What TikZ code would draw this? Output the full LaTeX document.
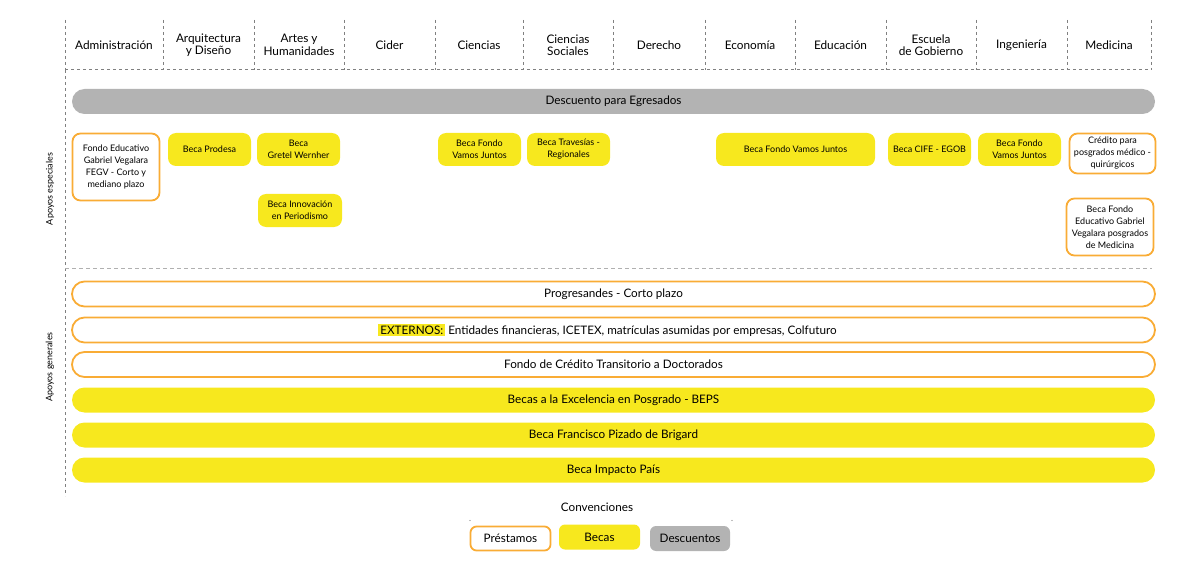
\documentclass[tikz,border=0pt]{standalone}
\usepackage{fontspec}
\setmainfont{Lato}
\definecolor{byellow}{HTML}{F7E81E}
\definecolor{borange}{HTML}{F9AC35}
\definecolor{bgray}{HTML}{B3B3B3}
\definecolor{lgray}{HTML}{808080}
\definecolor{sgray}{HTML}{B0B0B0}
\tikzset{
  grid/.style={draw=lgray, line width=1pt, dash pattern=on 3pt off 3pt},
  sep/.style={draw=sgray, line width=0.8pt, dash pattern=on 4pt off 3pt},
  head/.style={font=\fontsize{11.8}{12.5}\selectfont, align=center, inner sep=0pt},
  box/.style={rounded corners=8pt, align=center, inner sep=0pt, font=\fontsize{9}{12}\selectfont, text=black},
  prest/.style={box, draw=borange, line width=1.8pt, fill=white},
  beca/.style={box, fill=byellow},
  desc/.style={box, fill=bgray},
  bar/.style={rounded corners=12.5pt, minimum width=1083pt, minimum height=25pt, inner sep=0pt, font=\fontsize{11.7}{12}\selectfont},
  side/.style={rotate=90, font=\fontsize{9}{10}\selectfont, inner sep=0pt},
}
\begin{document}
\begin{tikzpicture}[x=1pt,y=-1pt]
\useasboundingbox (0,0) rectangle (1200,575);
% grid
\foreach \xx in {65,163,254,344,435,523,613,705,795,886,976,1067,1151}{
  \draw[grid] (\xx,20) -- (\xx,70);
}
\draw[grid] (65,70) -- (1151,70);
\draw[grid] (65,70) -- (65,496);
\draw[sep] (65,268) -- (1152,268);
% headers
\node[head] (h1) at (114,45) {Administración};
\node[head] (h2) at (208.5,45) {Arquitectura\\y Diseño};
\node[head] (h3) at (299,45) {Artes y\\Humanidades};
\node[head] (h4) at (389.5,45) {Cider};
\node[head] (h5) at (479,45) {Ciencias};
\node[head] (h6) at (568,45) {Ciencias\\Sociales};
\node[head] (h7) at (659,45) {Derecho};
\node[head] (h8) at (750,45) {Economía};
\node[head] (h9) at (840.5,45) {Educación};
\node[head] (h10) at (931,45) {Escuela\\de Gobierno};
\node[head] (h11) at (1021.5,45) {Ingeniería};
\node[head] (h12) at (1109,45) {Medicina};
% side labels
\node[side] (s1) at (50,189) {Apoyos especiales};
\node[side] (s2) at (50,367) {Apoyos generales};
% descuento
\node[bar, fill=bgray] (egr) at (613.5,101.5) {Descuento para Egresados};
% special
\node[prest, minimum width=87pt, minimum height=67pt] (fegv) at (116,167) {Fondo Educativo\\Gabriel Vegalara\\FEGV - Corto y\\mediano plazo};
\node[beca, minimum width=83pt, minimum height=33pt] (prodesa) at (209.5,149.5) {Beca Prodesa};
\node[beca, minimum width=83pt, minimum height=33pt] (gretel) at (298.5,149.5) {Beca\\Gretel Wernher};
\node[beca, minimum width=84pt, minimum height=33pt] (innov) at (300,210.5) {Beca Innovación\\en Periodismo};
\node[beca, minimum width=83pt, minimum height=33pt] (vj1) at (479.5,149.5) {Beca Fondo\\Vamos Juntos};
\node[beca, minimum width=83pt, minimum height=33pt] (trav) at (568.5,149.5) {Beca Travesías -\\Regionales};
\node[beca, minimum width=159pt, minimum height=33pt] (vj2) at (795.5,149.5) {Beca Fondo Vamos Juntos};
\node[beca, minimum width=83pt, minimum height=33pt] (cife) at (929.5,149.5) {Beca CIFE - EGOB};
\node[beca, minimum width=83pt, minimum height=33pt] (vj3) at (1019.5,149.5) {Beca Fondo\\Vamos Juntos};
\node[prest, minimum width=86pt, minimum height=40pt] (cred) at (1112.5,153.5) {Crédito para\\posgrados médico -\\quirúrgicos};
\node[prest, minimum width=87pt, minimum height=57pt] (fegvm) at (1110,227) {Beca Fondo\\Educativo Gabriel\\Vegalara posgrados\\de Medicina};
% general
\node[bar, prest, rounded corners=12.5pt, font=\fontsize{11.7}{12}\selectfont] (prog) at (613.5,294) {Progresandes - Corto plazo};
\node[bar, prest, rounded corners=12.5pt, font=\fontsize{11.7}{12}\selectfont] (ext) at (613.5,330) {{\setlength{\fboxsep}{2pt}\colorbox{byellow}{EXTERNOS:}} Entidades financieras, ICETEX, matrículas asumidas por empresas, Colfuturo\hspace{12pt}};
\node[bar, prest, rounded corners=12.5pt, font=\fontsize{11.7}{12}\selectfont] (fct) at (613.5,364.5) {Fondo de Crédito Transitorio a Doctorados};
\node[bar, fill=byellow] (beps) at (613.5,400) {Becas a la Excelencia en Posgrado - BEPS};
\node[bar, fill=byellow] (brig) at (613.5,435) {Beca Francisco Pizado de Brigard};
\node[bar, fill=byellow] (imp) at (613.5,470) {Beca Impacto País};
% legend
\node[font=\fontsize{11.7}{12}\selectfont, inner sep=0pt] (conv) at (597,507) {Convenciones};
\fill[lgray] (470,520.5) circle (0.6pt);
\fill[lgray] (732,520.5) circle (0.6pt);
\node[prest, font=\fontsize{11.7}{12}\selectfont, minimum width=80pt, minimum height=24pt, rounded corners=6pt] (lp) at (510.5,538.5) {Préstamos};
\node[beca, font=\fontsize{11.7}{12}\selectfont, minimum width=81pt, minimum height=25pt, rounded corners=6pt] (lb) at (599.5,537) {Becas};
\node[desc, font=\fontsize{11.7}{12}\selectfont, minimum width=80pt, minimum height=25pt, rounded corners=6pt] (ld) at (690,538.5) {Descuentos};
\end{tikzpicture}
\end{document}
